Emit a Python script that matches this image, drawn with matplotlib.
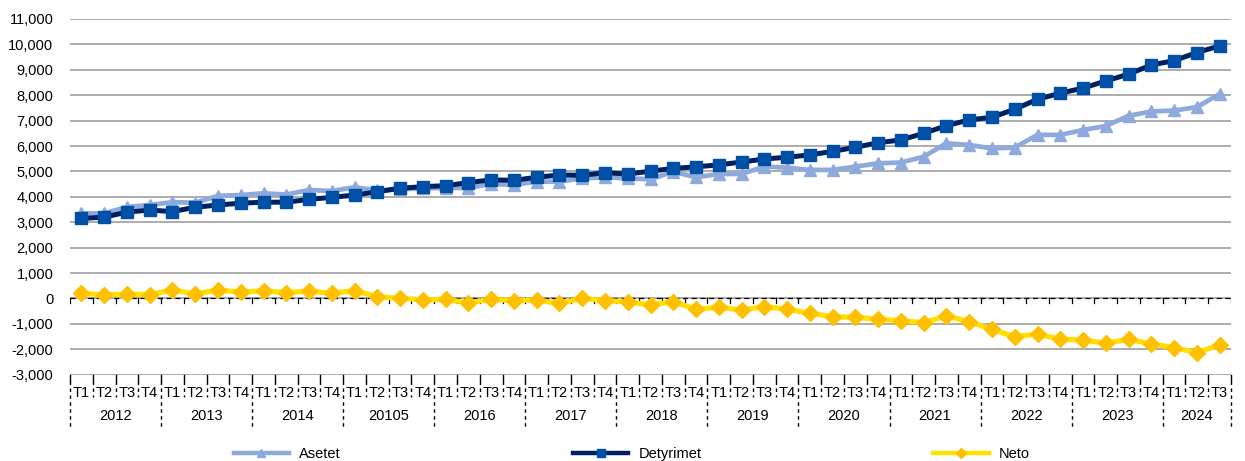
import matplotlib
matplotlib.use("Agg")
import matplotlib.pyplot as plt
from matplotlib.lines import Line2D
from matplotlib.ticker import FuncFormatter, MultipleLocator
import matplotlib.transforms as mtransforms

plt.rcParams['font.family'] = ['Liberation Sans', 'DejaVu Sans']

# Quarterly series, 2012 T1 .. 2024 T3
asetet = [3350, 3350, 3600, 3680, 3790, 3770, 4040, 4070, 4140, 4090,
          4270, 4230, 4380, 4250, 4300, 4330, 4350, 4350, 4510, 4470,
          4600, 4600, 4730, 4770, 4730, 4690, 4990, 4770, 4900, 4900,
          5190, 5150, 5060, 5060, 5190, 5320, 5350, 5580, 6110, 6040,
          5910, 5940, 6440, 6440, 6630, 6790, 7190, 7360, 7400, 7530,
          8050]
detyrimet = [3150, 3200, 3400, 3480, 3420, 3590, 3680, 3750, 3790, 3790,
             3900, 3980, 4070, 4200, 4340, 4400, 4440, 4560, 4670, 4650,
             4770, 4860, 4850, 4950, 4900, 5010, 5120, 5180, 5260, 5370,
             5490, 5560, 5650, 5790, 5950, 6130, 6240, 6500, 6800, 7030,
             7130, 7450, 7840, 8080, 8280, 8560, 8830, 9190, 9360, 9680,
             9940]
neto = [205, 140, 165, 155, 335, 177, 335, 244, 307, 230,
        295, 205, 307, 70, 8, -55, -40, -165, -33, -85,
        -60, -190, 8, -85, -125, -255, -125, -425, -347, -453,
        -320, -425, -583, -717, -740, -820, -873, -953, -690, -913,
        -1213, -1504, -1398, -1606, -1634, -1764, -1606, -1791, -1937, -2134,
        -1831]

quarters = ["T1", "T2", "T3", "T4"]
years = ["2012", "2013", "2014", "20105", "2016", "2017", "2018",
         "2019", "2020", "2021", "2022", "2023", "2024"]
quarter_labels = [quarters[i % 4] for i in range(len(asetet))]

c_asetet = "#8EA9DB"
c_det_line = "#002060"
c_det_mark = "#0050A8"
c_neto_line = "#FFE000"
c_neto_mark = "#FFC000"

W, H = 1245, 461
fig = plt.figure(figsize=(W / 100, H / 100), dpi=100)
ax_left, ax_right, ax_top, ax_bot = 70, 1231, 19, 374.7
ax = fig.add_axes([ax_left / W, 1 - ax_bot / H,
                   (ax_right - ax_left) / W, (ax_bot - ax_top) / H])

x = list(range(len(asetet)))
n = len(x)

ax.plot(x, asetet, color=c_asetet, lw=3.4, marker="^", ms=9,
        mfc=c_asetet, mec=c_asetet, zorder=3, solid_joinstyle="round")
ax.plot(x, detyrimet, color=c_det_line, lw=3.6, marker="s", ms=8.5,
        mfc=c_det_mark, mec=c_det_mark, zorder=4, solid_joinstyle="round")
ax.plot(x, neto, color=c_neto_line, lw=3.8, marker="D", ms=8.5,
        mfc=c_neto_mark, mec=c_neto_mark, zorder=4, solid_joinstyle="round")

ax.set_xlim(-0.5, n - 0.5)
ax.set_ylim(-3000, 11000)
ax.yaxis.set_major_locator(MultipleLocator(1000))
ax.yaxis.set_major_formatter(FuncFormatter(lambda v, p: f"{int(v):,}"))
ax.grid(axis="y", color="#A6A6A6", lw=1.3, zorder=0)
ax.set_axisbelow(True)
for s in ax.spines.values():
    s.set_visible(False)
ax.tick_params(axis="y", length=0, pad=12, labelsize=10.5, colors="black")

# Quarter labels on the category axis
ax.set_xticks(x)
ax.set_xticklabels(quarter_labels, fontsize=10.5)
ax.tick_params(axis="x", length=0, pad=8)

# Zero line drawn dashed with small boundary ticks
ax.axhline(0, color="black", lw=0.9, ls=(0, (4, 3)), zorder=2)
px = (ax_bot - ax_top)  # axes height in pixels
unit_per_px = 14000 / px
for b in range(n + 1):
    ax.plot([b - 0.5, b - 0.5], [0, -5 * unit_per_px], color="black",
            lw=0.9, zorder=2)

# Separators below the plot
trans = mtransforms.blended_transform_factory(ax.transData, ax.transAxes)
year_starts = list(range(0, n, 4)) + [n]
for b in range(n + 1):
    xb = b - 0.5
    ax.plot([xb, xb], [0, -6 / px], color="black", lw=1.0,
            transform=trans, clip_on=False)
    depth = 52 if b in year_starts else 22
    ax.plot([xb, xb], [-6 / px, -depth / px], color="black", lw=1.0,
            ls=(0, (2.5, 2.5)), transform=trans, clip_on=False)

# Year labels centred under their quarters
for k, yr in enumerate(years):
    start = 4 * k
    end = min(start + 4, n)
    cx = (start + end - 1) / 2
    ax.text(cx, -41 / px, yr, transform=trans, ha="center", va="center",
            fontsize=10.5)

handles = [
    Line2D([], [], color=c_asetet, lw=3.2, marker="^", ms=6,
           mfc=c_asetet, mec=c_asetet),
    Line2D([], [], color=c_det_line, lw=3.2, marker="s", ms=6,
           mfc=c_det_mark, mec=c_det_mark),
    Line2D([], [], color=c_neto_line, lw=3.2, marker="D", ms=5,
           mfc=c_neto_mark, mec=c_neto_mark),
]
fig.legend(handles, ["Asetet", "Detyrimet", "Neto"], loc="center",
           bbox_to_anchor=(0.5075, 0.016), ncol=3, frameon=False,
           fontsize=10.5, handlelength=3.8, handletextpad=0.7,
           columnspacing=15.9, borderpad=0, borderaxespad=0)

fig.savefig("out.png", dpi=100)
